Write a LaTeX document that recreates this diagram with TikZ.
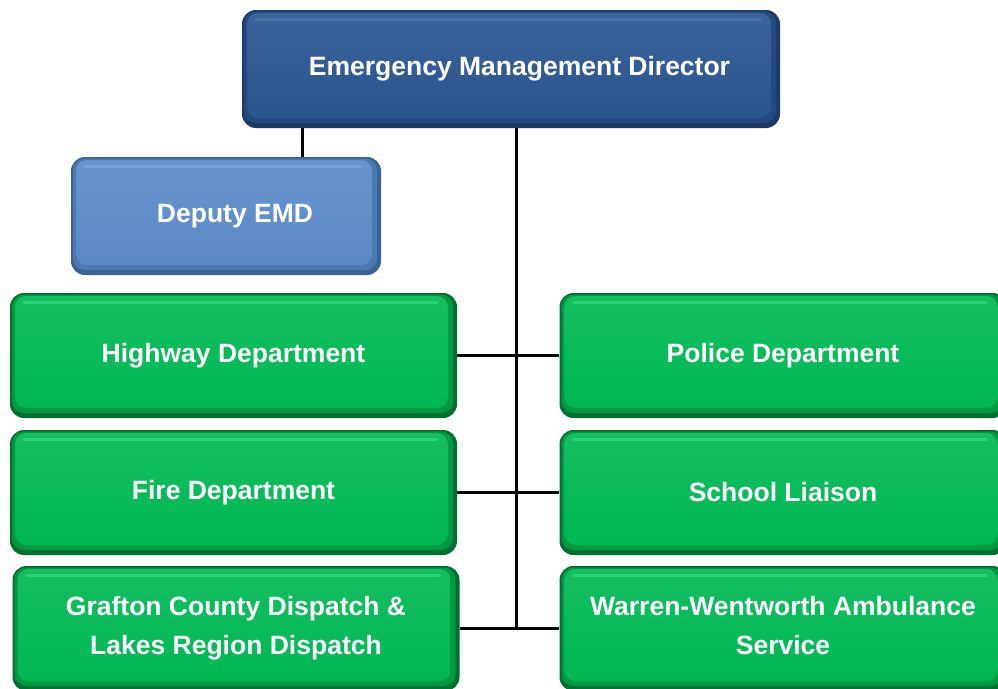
\documentclass[tikz,border=0pt]{standalone}
\usepackage{fontspec}
\setmainfont{Liberation Sans}
\definecolor{dirmain}{HTML}{2A5590}
\definecolor{dirdark}{HTML}{1B3A66}
\definecolor{dirlight}{HTML}{4F7DB8}
\definecolor{depmain}{HTML}{5A8AC7}
\definecolor{depdark}{HTML}{3A6498}
\definecolor{deplight}{HTML}{7EAEE6}
\definecolor{grmain}{HTML}{00B853}
\definecolor{grdark}{HTML}{00702E}
\definecolor{grlight}{HTML}{35E283}
\tikzset{
  bevel/.style n args={3}{fill=#1, path picture={
    \fill[#2!55!#1, rounded corners=12pt]
      ([xshift=2pt,yshift=-1.5pt]path picture bounding box.north west) rectangle
      ([xshift=-4pt,yshift=5pt]path picture bounding box.south east);
    \shade[top color=#2!92!white, bottom color=#2, rounded corners=11pt]
      ([xshift=5pt,yshift=-3pt]path picture bounding box.north west) rectangle
      ([xshift=-9pt,yshift=10pt]path picture bounding box.south east);
    \draw[#3, line width=3pt, line cap=round, opacity=0.6]
      ([xshift=14pt,yshift=-9pt]path picture bounding box.north west) --
      ([xshift=-20pt,yshift=-9pt]path picture bounding box.north east);
  }},
  box/.style={rounded corners=14pt, inner sep=0pt, text=white, align=center,
    font=\fontsize{26.5}{39}\selectfont\bfseries},
  dirbox/.style={box, bevel={dirdark}{dirmain}{dirlight}},
  depbox/.style={box, bevel={depdark}{depmain}{deplight}},
  grbox/.style={box, bevel={grdark}{grmain}{grlight}, minimum width=447pt, minimum height=125pt},
  link/.style={line width=3pt, black}
}
\begin{document}
\begin{tikzpicture}[x=1pt,y=-1pt]
\useasboundingbox (0,0) rectangle (998,688);
\coordinate (dj) at (302,120);
\coordinate (tr) at (516,120);
\node[dirbox, minimum width=538pt, minimum height=118pt] (dir) at (511,69) {\hspace*{17pt}Emergency Management Director};
\node[depbox, minimum width=310pt, minimum height=118pt] (dep) at (226,216) {\hspace*{18pt}Deputy EMD};
\node[grbox] (hw) at (233.5,355.5) {Highway Department};
\node[grbox] (pd) at (783,355.5) {Police Department};
\node[grbox] (fd) at (233.5,492.5) {Fire Department};
\node[grbox] (sl) at (783,492.5) {School Liaison};
\node[grbox] (gc) at (236,628.5) {Grafton County Dispatch \&\\Lakes Region Dispatch};
\node[grbox] (ww) at (783,628.5) {Warren-Wentworth Ambulance\\Service\rule[-0.2em]{0pt}{0pt}};
\draw[link] (dir.south -| dj) -- (dep.north -| dj);
\draw[link] (dir.south -| tr) -- (tr |- gc.east);
\draw[link] (hw.east) -- (pd.west);
\draw[link] (fd.east) -- (sl.west);
\draw[link] (gc.east) -- (ww.west);
\end{tikzpicture}
\end{document}
